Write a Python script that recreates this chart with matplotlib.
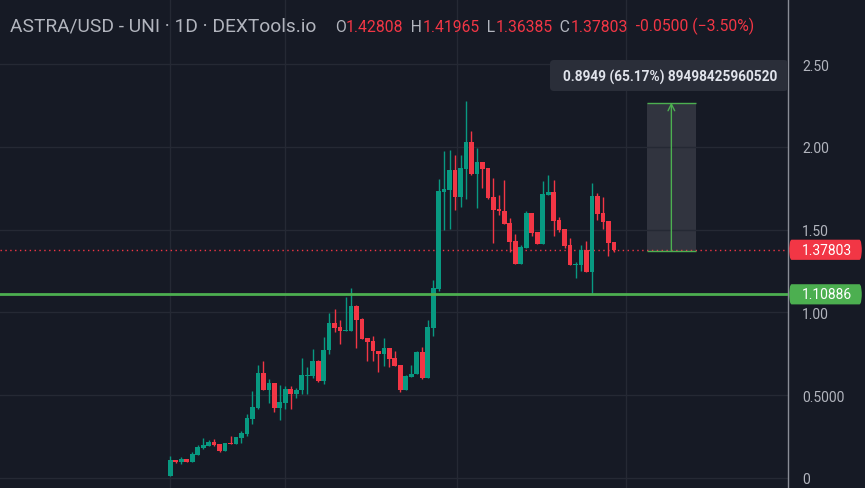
import matplotlib.pyplot as plt
import matplotlib.transforms as mtransforms
from matplotlib.patches import Rectangle, FancyBboxPatch
import numpy as np

# daily candles, ASTRA/USD
opens = [0.012, 0.107, 0.095, 0.113, 0.095, 0.139, 0.180, 0.194, 0.216, 0.204,
         0.161, 0.210, 0.204, 0.240, 0.264, 0.355, 0.421, 0.633, 0.530, 0.573,
         0.421, 0.452, 0.536, 0.506, 0.530, 0.615, 0.615, 0.706, 0.585, 0.772,
         0.935, 0.911, 0.887, 0.887, 1.038, 0.960, 0.845, 0.826, 0.766, 0.748,
         0.784, 0.724, 0.681, 0.530, 0.609, 0.627, 0.760, 0.603, 0.905, 1.141,
         1.727, 1.739, 1.860, 1.697, 1.866, 2.030, 1.836, 1.909, 1.872, 1.697,
         1.625, 1.613, 1.540, 1.431, 1.292, 1.389, 1.600, 1.485, 1.413, 1.709,
         1.727, 1.558, 1.504, 1.407, 1.286, 1.286, 1.376, 1.244, 1.703, 1.600,
         1.552, 1.428]
closes = [0.107, 0.095, 0.113, 0.095, 0.143, 0.186, 0.198, 0.216, 0.198, 0.161,
          0.210, 0.204, 0.246, 0.270, 0.361, 0.427, 0.633, 0.530, 0.573, 0.421,
          0.458, 0.536, 0.506, 0.530, 0.621, 0.621, 0.706, 0.585, 0.772, 0.935,
          0.905, 0.887, 0.893, 1.038, 0.953, 0.839, 0.820, 0.766, 0.748, 0.784,
          0.718, 0.676, 0.530, 0.615, 0.627, 0.760, 0.603, 0.911, 1.147, 1.733,
          1.745, 1.860, 1.697, 1.872, 2.030, 1.836, 1.909, 1.866, 1.691, 1.618,
          1.613, 1.534, 1.425, 1.292, 1.395, 1.600, 1.479, 1.413, 1.715, 1.727,
          1.552, 1.498, 1.401, 1.286, 1.292, 1.376, 1.244, 1.703, 1.594, 1.546,
          1.419, 1.378]
highs = [0.131, 0.107, 0.123, 0.113, 0.155, 0.198, 0.240, 0.228, 0.234, 0.204,
         0.210, 0.252, 0.246, 0.282, 0.385, 0.524, 0.681, 0.706, 0.597, 0.573,
         0.560, 0.554, 0.554, 0.542, 0.724, 0.669, 0.778, 0.712, 0.851, 0.996,
         1.020, 0.953, 1.093, 1.147, 1.044, 0.966, 0.845, 0.857, 0.766, 0.845,
         0.784, 0.766, 0.681, 0.621, 0.681, 0.766, 0.790, 0.953, 1.195, 1.806,
         1.975, 1.981, 1.951, 1.951, 2.278, 2.096, 1.993, 1.909, 1.872, 1.812,
         1.709, 1.800, 1.570, 1.473, 1.407, 1.612, 1.600, 1.485, 1.794, 1.830,
         1.800, 1.576, 1.504, 1.449, 1.304, 1.407, 1.431, 1.782, 1.721, 1.697,
         1.552, 1.428]
lows = [0.012, 0.090, 0.083, 0.095, 0.095, 0.139, 0.174, 0.194, 0.192, 0.155,
        0.161, 0.204, 0.204, 0.210, 0.252, 0.325, 0.415, 0.530, 0.452, 0.397,
        0.349, 0.415, 0.415, 0.482, 0.506, 0.506, 0.603, 0.579, 0.567, 0.748,
        0.881, 0.808, 0.887, 0.887, 0.784, 0.839, 0.706, 0.706, 0.639, 0.676,
        0.669, 0.676, 0.518, 0.530, 0.609, 0.627, 0.599, 0.603, 0.857, 1.130,
        1.498, 1.504, 1.618, 1.636, 1.685, 1.830, 1.630, 1.752, 1.685, 1.419,
        1.588, 1.534, 1.365, 1.292, 1.292, 1.389, 1.461, 1.413, 1.413, 1.709,
        1.461, 1.485, 1.389, 1.286, 1.207, 1.250, 1.244, 1.110, 1.558, 1.504,
        1.340, 1.364]

yticks = [0, 0.5, 1.0, 1.5, 2.0, 2.5]
ytick_labels = ["0", "0.5000", "1.00", "1.50", "2.00", "2.50"]
vgrid = [0, 21, 52.3, 83.2]

last_price = 1.37803
support = 1.10886
meas_x0, meas_x1 = 87, 96
meas_base = 1.3732
meas_delta = 0.8949
meas_label = "0.8949 (65.17%) 89498425960520"

title = "ASTRA/USD - UNI \u00b7 1D \u00b7 DEXTools.io"
ohlc_parts = [("O", "g"), ("1.42808", "r"), ("  H", "g"), ("1.41965", "r"),
              ("  L", "g"), ("1.36385", "r"), ("  C", "g"), ("1.37803", "r"),
              ("  -0.0500 (\u22123.50%)", "r")]

BG = '#161a25'
GRID = '#252934'
TXT = '#b2b5be'
UP = '#089981'
DOWN = '#f23645'
GREEN = '#4caf50'

plt.rcParams['font.family'] = ['Roboto', 'DejaVu Sans']

W, H = 865, 489
fig = plt.figure(figsize=(W / 100, H / 100), dpi=100, facecolor=BG)
ax = fig.add_axes([0, 0, 788 / W, 1])
ax.set_facecolor(BG)

o = np.array(opens)
c = np.array(closes)
x = np.arange(len(o))
cols = np.where(c >= o, UP, DOWN)
ax.vlines(x, lows, highs, colors=cols, lw=1, zorder=3)
ax.bar(x, np.maximum(np.abs(c - o), 0.006), bottom=np.minimum(o, c),
       width=0.86, color=cols, lw=0, zorder=4)

ax.set_xlim(-31.1, 112.8)
ax.set_ylim(-0.062, 2.894)
ax.set_yticks(yticks)
ax.set_yticklabels(ytick_labels)
ax.yaxis.tick_right()
ax.tick_params(axis='y', length=0, pad=10, labelcolor=TXT, labelsize=10)
ax.set_xticks(vgrid)
ax.tick_params(axis='x', length=0, labelbottom=False)
ax.grid(color=GRID, lw=1, zorder=0)
for s in ['top', 'left', 'bottom']:
    ax.spines[s].set_visible(False)
ax.spines['right'].set_color('#8a8d96')
ax.spines['right'].set_linewidth(1)

# price lines
ax.axhline(last_price, color=DOWN, ls=(0, (1, 2.5)), lw=1, zorder=2)
ax.axhline(support, color=GREEN, lw=2, zorder=5)

# measure tool
ax.add_patch(Rectangle((meas_x0, meas_base), meas_x1 - meas_x0, meas_delta,
                       facecolor='#787b86', alpha=0.28, lw=0, zorder=1))
ax.hlines([meas_base, meas_base + meas_delta], meas_x0, meas_x1, color=GREEN, lw=1, zorder=5)
xm = (meas_x0 + meas_x1) / 2
ax.annotate('', xy=(xm, meas_base + meas_delta), xytext=(xm, meas_base),
            arrowprops=dict(arrowstyle='->', color=GREEN, lw=1, mutation_scale=12,
                            shrinkA=0, shrinkB=0), zorder=5)

# pixel transform (origin top-left)
px = mtransforms.Affine2D().scale(1 / W, -1 / H).translate(0, 1) + fig.transFigure

fig.patches.append(FancyBboxPatch((550, 61), 238, 31, boxstyle='round,pad=0,rounding_size=4',
                                  transform=px, facecolor='#2a2e39', edgecolor='none', zorder=6))
fig.text(670, 77, meas_label, transform=px, color='#e0e3eb', fontsize=9.8,
         fontweight='bold', ha='center', va='center', zorder=7)

# right side price tags
bt = mtransforms.blended_transform_factory(fig.transFigure, ax.transData)
for price, col in [(last_price, DOWN), (support, GREEN)]:
    fig.patches.append(FancyBboxPatch((789 / W, price - 0.061), 73 / W, 0.122,
                                      boxstyle='round,pad=0,rounding_size=0.003',
                                      transform=bt, facecolor=col, edgecolor='none',
                                      mutation_aspect=30, zorder=6))
    fig.text(827 / W, price, f"{price:.5f}", transform=bt, color='white', fontsize=10,
             ha='center', va='center', zorder=7)

# header
fig.text(10, 31.5, title, transform=px, color=TXT, fontsize=13.8, va='baseline', ha='left')
fig.canvas.draw()
renderer = fig.canvas.get_renderer()
xpos = 335
for txt, k in ohlc_parts:
    t = fig.text(xpos, 31.5, txt, transform=px, color=TXT if k == 'g' else DOWN,
                 fontsize=11.3, va='baseline', ha='left')
    xpos += t.get_window_extent(renderer).width

fig.savefig('out.png', dpi=100, facecolor=BG)
